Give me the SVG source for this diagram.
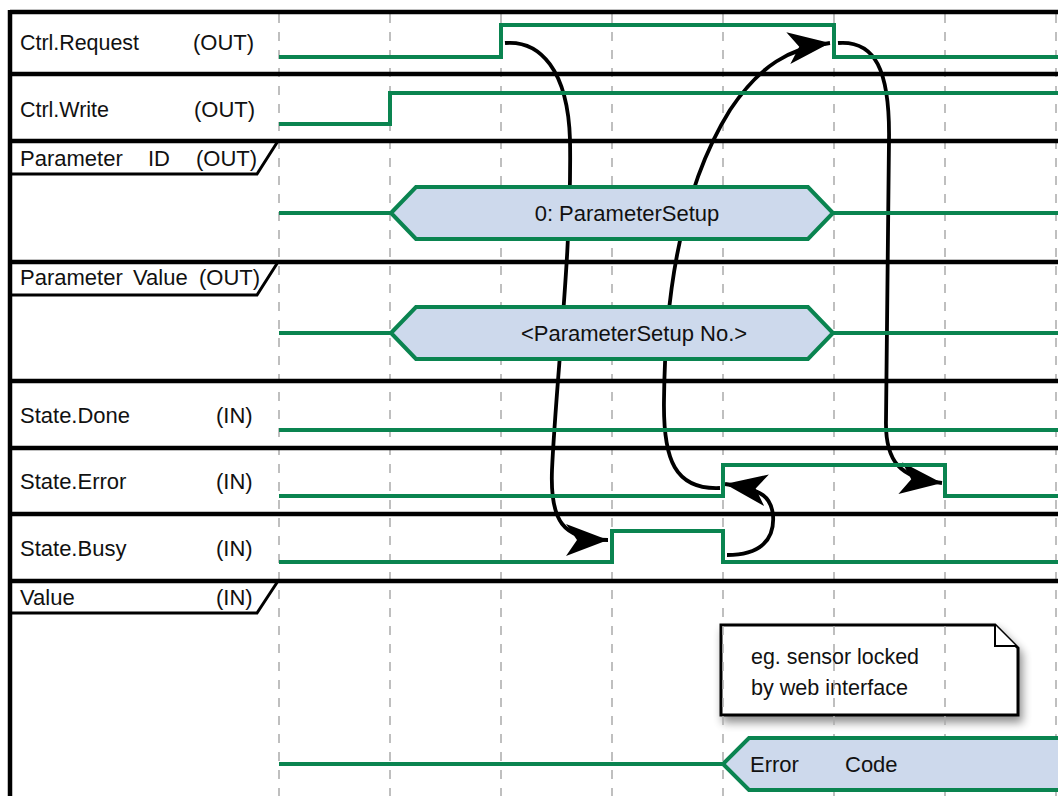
<svg xmlns="http://www.w3.org/2000/svg" width="1058" height="796" viewBox="0 0 1058 796">
<style>
.lbl{font-family:"Liberation Sans",Arial,sans-serif;font-size:22px;fill:#111}
.sep{stroke:#000;stroke-width:4.5;fill:none}
.box{stroke:#000;stroke-width:3;fill:none}
.sig{stroke:#0a8450;stroke-width:4;fill:none}
.bus{stroke:#0a8450;stroke-width:4;fill:#cdd9ec}
.grid{stroke:#aaa;stroke-width:1.5;stroke-dasharray:9 9}
.con{stroke:#000;stroke-width:3.8;fill:none;marker-end:url(#arr)}
</style>
<defs>
<marker id="arr" markerUnits="userSpaceOnUse" markerWidth="44" markerHeight="36" viewBox="0 0 44 36" refX="42" refY="18" orient="auto">
<path d="M0,2 L42,18 L0,34 L11,18 Z" fill="#000"/>
</marker>
<filter id="sh" x="-10%" y="-10%" width="130%" height="140%">
<feGaussianBlur in="SourceAlpha" stdDeviation="5"/>
<feOffset dx="3" dy="6" result="b"/>
<feComponentTransfer><feFuncA type="linear" slope="0.45"/></feComponentTransfer>
<feMerge><feMergeNode/><feMergeNode in="SourceGraphic"/></feMerge>
</filter>
</defs>
<rect width="1058" height="796" fill="#fff"/>

<g id="note">
<path d="M721,625 L995,625 L1018,648 L1018,715 L721,715 Z" fill="#fff" stroke="#000" stroke-width="3" filter="url(#sh)"/>
<path d="M995,625 L995,646 L1016,646" fill="#fff" stroke="#000" stroke-width="2"/>
<text class="lbl" x="751" y="664" textLength="168" lengthAdjust="spacingAndGlyphs">eg. sensor locked</text>
<text class="lbl" x="751" y="695" textLength="157" lengthAdjust="spacingAndGlyphs">by web interface</text>
</g>

<g id="grid">
<line class="grid" x1="279" y1="14" x2="279" y2="796"/>
<line class="grid" x1="390" y1="14" x2="390" y2="796"/>
<line class="grid" x1="501" y1="14" x2="501" y2="796"/>
<line class="grid" x1="612" y1="14" x2="612" y2="796"/>
<line class="grid" x1="723" y1="14" x2="723" y2="796"/>
<line class="grid" x1="834" y1="14" x2="834" y2="796"/>
<line class="grid" x1="945" y1="14" x2="945" y2="796"/>
<line class="grid" x1="1056" y1="14" x2="1056" y2="796"/>
</g>

<g id="frame">
<line class="sep" x1="10" y1="12" x2="1058" y2="12"/>
<line class="sep" x1="10" y1="10" x2="10" y2="796"/>
<line class="sep" x1="10" y1="74" x2="1058" y2="74"/>
<line class="sep" x1="10" y1="141" x2="1058" y2="141"/>
<line class="sep" x1="10" y1="262" x2="1058" y2="262"/>
<line class="sep" x1="10" y1="381" x2="1058" y2="381"/>
<line class="sep" x1="10" y1="448" x2="1058" y2="448"/>
<line class="sep" x1="10" y1="514" x2="1058" y2="514"/>
<line class="sep" x1="10" y1="581" x2="1058" y2="581"/>
<path class="box" d="M10,174 L257,174 L278,141"/>
<path class="box" d="M10,295 L257,295 L278,262"/>
<path class="box" d="M10,613 L257,613 L278,581"/>
</g>

<g id="connectors">
<path class="con" d="M505,43 C540,40 568,70 570,140 C572,250 556,380 552,470 C550,520 562,540 608,540"/>
<path class="con" d="M727,555 C760,555 775,540 773,515 C771,498 765,490 725,484"/>
<path class="con" d="M720,488 C675,490 663,460 664,400 C665,300 680,190 730,110 C760,65 790,48 830,43"/>
<path class="con" d="M838,43 C875,40 890,70 889,140 L886,420 C885,462 900,478 942,483"/>
</g>

<g id="ctrl-request">
<text class="lbl" x="20" y="50" textLength="119" lengthAdjust="spacingAndGlyphs">Ctrl.Request</text>
<text class="lbl" x="193" y="50">(OUT)</text>
<path class="sig" d="M279,57 L501,57 L501,25 L834,25 L834,57 L1058,57"/>
</g>
<g id="ctrl-write">
<text class="lbl" x="20" y="117" textLength="89" lengthAdjust="spacingAndGlyphs">Ctrl.Write</text>
<text class="lbl" x="194" y="117">(OUT)</text>
<path class="sig" d="M279,124 L390,124 L390,93 L1058,93"/>
</g>
<g id="parameter-id">
<text class="lbl" x="20" y="166">Parameter</text>
<text class="lbl" x="148" y="166">ID</text>
<text class="lbl" x="196" y="166">(OUT)</text>
<line class="sig" x1="279" y1="213" x2="391" y2="213"/>
<line class="sig" x1="833" y1="213" x2="1058" y2="213"/>
<path class="bus" d="M391,213 L416,187 L808,187 L833,213 L808,239 L416,239 Z"/>
<text class="lbl" x="627" y="221" text-anchor="middle">0: ParameterSetup</text>
</g>
<g id="parameter-value">
<text class="lbl" x="20" y="285">Parameter</text>
<text class="lbl" x="133" y="285">Value</text>
<text class="lbl" x="199" y="285">(OUT)</text>
<line class="sig" x1="279" y1="333" x2="391" y2="333"/>
<line class="sig" x1="833" y1="333" x2="1058" y2="333"/>
<path class="bus" d="M391,333 L416,307 L808,307 L833,333 L808,359 L416,359 Z"/>
<text class="lbl" x="634" y="341" text-anchor="middle">&lt;ParameterSetup No.&gt;</text>
</g>
<g id="state-done">
<text class="lbl" x="20" y="423">State.Done</text>
<text class="lbl" x="216" y="423">(IN)</text>
<line class="sig" x1="279" y1="430" x2="1058" y2="430"/>
</g>
<g id="state-error">
<text class="lbl" x="20" y="489">State.Error</text>
<text class="lbl" x="216" y="489">(IN)</text>
<path class="sig" d="M279,496 L723,496 L723,465 L945,465 L945,496 L1058,496"/>
</g>
<g id="state-busy">
<text class="lbl" x="20" y="556">State.Busy</text>
<text class="lbl" x="216" y="556">(IN)</text>
<path class="sig" d="M279,562 L612,562 L612,531 L723,531 L723,562 L1058,562"/>
</g>
<g id="value">
<text class="lbl" x="20" y="605">Value</text>
<text class="lbl" x="216" y="605">(IN)</text>
<line class="sig" x1="279" y1="764" x2="723" y2="764"/>
<path class="bus" d="M1060,738 L749,738 L723,764 L749,790 L1060,790"/>
<text class="lbl" x="750" y="772">Error</text>
<text class="lbl" x="845" y="772">Code</text>
</g>
</svg>
